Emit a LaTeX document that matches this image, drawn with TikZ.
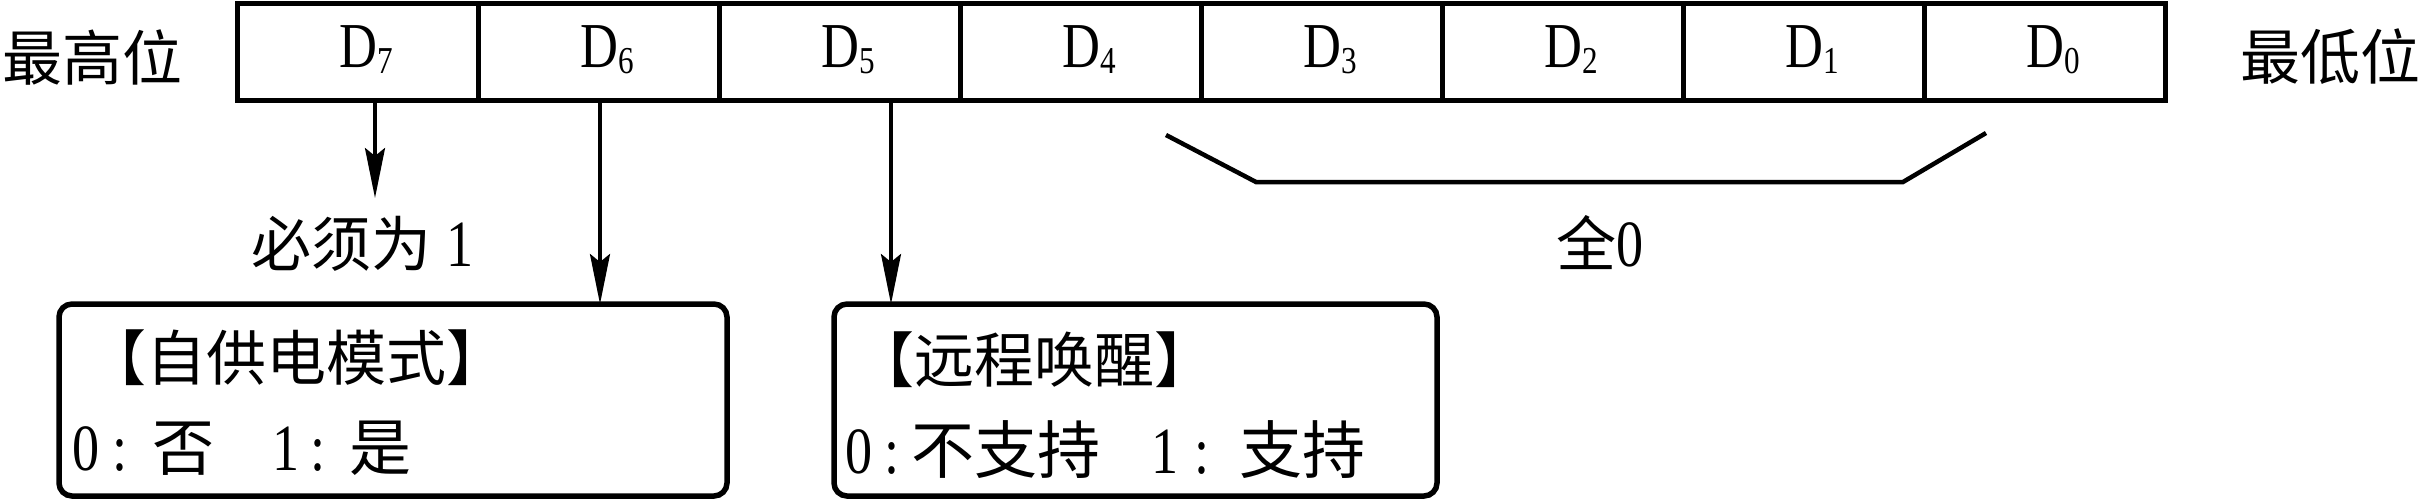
\documentclass[tikz,border=0pt]{standalone}
\usepackage{fontspec}
\setmainfont{Liberation Serif}
\newfontfamily\tnrc[FakeStretch=0.82]{Liberation Serif}
\newfontfamily\cjk{Noto Sans CJK SC}
\usetikzlibrary{arrows.meta}
\newcommand{\bitlab}[1]{{\tnrc D\raisebox{-6pt}{\fontsize{38}{40}\selectfont #1}}}
\newcommand{\dg}[1]{{\tnrc\fontsize{66}{70}\selectfont #1}}
\begin{document}
\begin{tikzpicture}[x=1pt,y=-1pt,
  cell/.style={draw,line width=5pt,minimum width=241pt,minimum height=97pt,inner sep=0pt,outer sep=0pt},
  dlab/.style={anchor=base,inner sep=0pt,font=\fontsize{64}{70}\selectfont},
  cjkt/.style={inner sep=0pt,font=\cjk\fontsize{60}{70}\selectfont},
  ibox/.style={draw,line width=5.5pt,rounded corners=13pt,inner sep=0pt,outer sep=0pt},
  arr/.style={line width=3.5pt,-{Stealth[length=50pt,width=20pt,inset=8pt]}},
  brk/.style={line width=4.5pt,line join=miter}]
\useasboundingbox (0,0) rectangle (2421,499);
% register cells
\foreach \i/\b in {0/7,1/6,2/5,3/4,4/3,5/2,6/1,7/0}{
  \node[cell] (c\b) at ({237+241*(\i+0.5)},51.5) {};
  \node[dlab] (l\b) at ({237+241*(\i+0.5)+9},67) {\bitlab{\b}};
}
\node[cjkt] (msb) at (92,57) {最高位};
\node[cjkt] (lsb) at (2330,57) {最低位};
% arrows
\coordinate (x7) at (375,0);
\coordinate (x6) at (600,0);
\coordinate (x5) at (891,0);
\coordinate (t7) at (375,198);
\node[cjkt] (must) at (363,244) {必须为\hspace{15pt}\dg{1}};
\node[ibox,minimum width=668pt,minimum height=192pt] (b1) at (393,400) {};
\node[ibox,minimum width=603pt,minimum height=192pt] (b2) at (1135.5,400) {};
\draw[arr] (c7.south -| x7) -- (t7);
\draw[arr] (c6.south -| x6) -- (b1.north -| x6);
\draw[arr] (c5.south -| x5) -- (b2.north -| x5);
% box texts
\node[cjkt,anchor=west] (b1t) at (86,358) {【自供电模式】};
\node[cjkt,anchor=west,font=\cjk\fontsize{62}{70}\selectfont] (b1v) at (72,448) {\makebox[30pt][l]{\dg{0}}\makebox[50pt][l]{\hspace{10pt}\dg{:}}否\hspace{58pt}\makebox[30pt][l]{\dg{1}}\makebox[47pt][l]{\hspace{8pt}\dg{:}}是};
\node[cjkt,anchor=west] (b2t) at (854,360) {【远程唤醒】};
\node[cjkt,anchor=west,font=\cjk\fontsize{63}{70}\selectfont] (b2v) at (845,450) {\makebox[27pt][l]{\dg{0}}\makebox[39pt][c]{\dg{:}}不支持\hspace{50pt}\makebox[30pt][c]{\dg{1}}\makebox[59pt][l]{\hspace{14pt}\dg{:}}支持};
% brace-like line for D4..D0
\coordinate (p1) at (1166,135);
\coordinate (p2) at (1256,182);
\coordinate (p3) at (1903,182);
\coordinate (p4) at (1986,133);
\draw[brk] (p1) -- (p2) -- (p3) -- (p4);
\node[cjkt] (zero) at (1600,243) {全\dg{0}};
\end{tikzpicture}
\end{document}
